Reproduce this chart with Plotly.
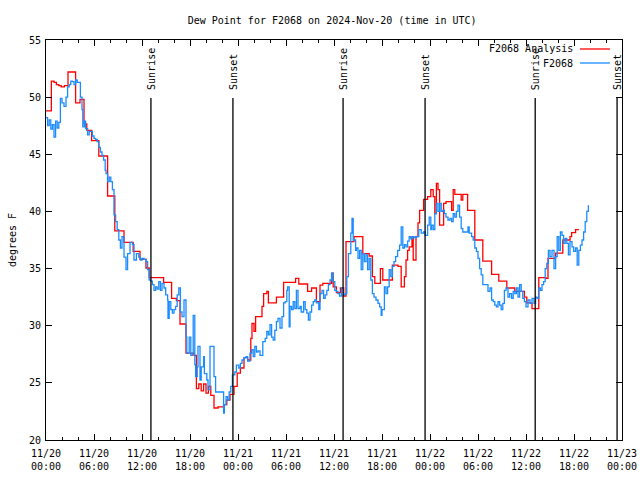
import pandas as pd
import plotly.graph_objects as go

TITLE = "Dew Point for F2068 on 2024-Nov-20 (time in UTC)"
START = pd.Timestamp("2024-11-20 00:00")
END = pd.Timestamp("2024-11-23 00:00")

# F2068 Analysis (hours since 11/20 00:00 UTC, dew point F)
analysis_hours = [0.0, 0.67, 1.0, 1.3, 1.6, 1.9, 2.3, 2.75, 3.7, 4.25, 4.75, 5.1, 5.7, 6.6, 7.7, 8.6,
                  9.75, 10.9, 11.75, 12.5, 12.9, 14.7, 15.7, 16.3, 16.75, 17.5, 18.5, 18.8, 19.1, 19.4,
                  19.7, 20.0, 20.3, 20.6, 21.0, 21.5, 22.25, 22.6, 23.0, 23.5, 23.9, 24.3, 24.75, 25.2,
                  25.6, 25.75, 26.0, 26.2, 27.0, 27.2, 27.6, 27.8, 28.8, 29.7, 31.2, 31.6, 32.7, 33.2,
                  33.8, 34.25, 34.6, 35.7, 35.9, 36.3, 36.8, 37.2, 37.5, 38.5, 39.6, 40.4, 40.8, 41.1,
                  41.8, 42.1, 43.3, 44.0, 44.4, 44.8, 45.0, 45.2, 45.4, 45.75, 45.9, 46.25, 46.5, 46.7,
                  47.2, 47.7, 48.1, 48.4, 48.6, 48.8, 49.0, 49.2, 49.7, 50.0, 50.7, 50.9, 51.1, 51.9,
                  52.1, 52.7, 53.6, 54.6, 55.7, 56.6, 57.6, 58.6, 59.8, 60.1, 60.75, 61.6, 62.5, 62.75,
                  63.7, 64.6, 65.5, 65.7, 66.2, 66.6]
analysis_values = [48.8, 51.4, 51.3, 51.1, 51.0, 50.9, 51.0, 52.2, 49.5, 49.8, 47.65, 47.1, 46.2, 44.85,
                   41.35, 38.3, 37.3, 36.5, 35.8, 35.05, 34.2, 33.8, 32.4, 32.2, 30.15, 27.6, 27.4, 24.5,
                   24.9, 24.3, 24.9, 24.1, 24.7, 23.9, 22.8, 22.9, 23.1, 23.5, 24.0, 24.7, 25.85, 26.3,
                   27.2, 27.0, 28.9, 30.2, 29.5, 30.8, 31.7, 32.8, 33.0, 32.0, 32.5, 33.8, 34.15, 33.65,
                   33.0, 33.3, 32.1, 33.55, 33.7, 34.6, 33.4, 32.9, 33.3, 32.6, 37.35, 37.8, 36.3, 36.1,
                   34.3, 33.7, 35.0, 34.0, 35.3, 35.2, 33.4, 34.3, 35.75, 36.6, 36.9, 37.8, 35.75, 37.8,
                   39.0, 40.1, 41.05, 41.3, 41.9, 41.3, 39.8, 42.45, 41.9, 38.8, 40.7, 40.85, 40.1, 41.9,
                   41.5, 41.0, 41.5, 40.1, 37.5, 35.65, 34.5, 33.9, 33.3, 33.0, 32.5, 32.0, 31.5, 34.2,
                   34.15, 35.9, 36.35, 37.5, 37.8, 38.15, 38.4, 38.4]

# F2068 observations
obs_hours = [0.0, 0.2, 0.4, 0.6, 0.8, 1.0, 1.2, 1.4, 1.6, 1.8, 2.0, 2.25, 2.5, 2.7, 2.9, 3.1, 3.3, 3.5,
             3.7, 3.9, 4.1, 4.3, 4.5, 4.6, 4.8, 4.95, 5.2, 5.4, 5.6, 5.8, 6.0, 6.2, 6.4, 6.6, 6.8, 7.0,
             7.2, 7.4, 7.5, 7.7, 7.9, 8.1, 8.3, 8.5, 8.7, 8.9, 9.1, 9.3, 9.5, 9.75, 10.0, 10.2, 10.5,
             10.8, 11.0, 11.3, 11.6, 11.8, 12.0, 12.25, 12.5, 12.7, 12.9, 13.1, 13.3, 13.5, 13.7, 13.9,
             14.1, 14.3, 14.5, 14.75, 14.96, 15.2, 15.25, 15.4, 15.6, 15.8, 16.0, 16.2, 16.4, 16.6,
             16.8, 17.0, 17.25, 17.5, 17.6, 17.9, 18.1, 18.3, 18.4, 18.6, 18.7, 18.9, 19.0, 19.25,
             19.4, 19.7, 19.8, 20.1, 20.25, 20.5, 20.8, 21.0, 21.2, 21.6, 22.0, 22.2, 22.3, 22.5,
             22.7, 22.9, 23.1, 23.3, 23.6, 23.8, 24.1, 24.3, 24.5, 24.75, 25.0, 25.2, 25.5, 25.7,
             25.9, 26.1, 26.3, 26.5, 26.75, 27.1, 27.4, 27.6, 27.8, 28.0, 28.2, 28.4, 28.6, 28.8,
             29.0, 29.25, 29.5, 29.7, 29.9, 30.1, 30.2, 30.4, 30.5, 30.7, 30.9, 31.1, 31.3, 31.5,
             31.75, 31.9, 32.2, 32.4, 32.6, 32.8, 33.0, 33.2, 33.4, 33.6, 33.8, 34.1, 34.25, 34.5,
             34.7, 34.9, 35.1, 35.3, 35.5, 35.7, 35.9, 36.1, 36.3, 36.5, 36.7, 36.95, 37.2, 37.4,
             37.6, 37.8, 38.1, 38.25, 38.4, 38.7, 38.8, 39.0, 39.2, 39.4, 39.6, 39.8, 40.0, 40.2,
             40.4, 40.6, 40.8, 41.0, 41.25, 41.5, 41.7, 41.9, 42.0, 42.3, 42.5, 42.7, 42.9, 43.1,
             43.3, 43.5, 43.7, 43.95, 44.2, 44.4, 44.6, 44.8, 45.0, 45.2, 45.4, 45.6, 45.8, 46.0,
             46.25, 46.6, 46.9, 47.2, 47.4, 47.7, 47.9, 48.1, 48.2, 48.4, 48.6, 48.8, 49.0, 49.2,
             49.4, 49.6, 49.8, 50.0, 50.25, 50.5, 50.7, 50.9, 51.1, 51.3, 51.5, 51.7, 51.9, 52.1,
             52.5, 52.75, 52.9, 53.2, 53.4, 53.6, 53.8, 54.0, 54.2, 54.4, 54.6, 55.0, 55.25, 55.5,
             55.7, 55.9, 56.1, 56.3, 56.5, 56.7, 56.9, 57.1, 57.3, 57.5, 57.75, 57.96, 58.2, 58.4,
             58.6, 58.8, 59.0, 59.2, 59.4, 59.6, 59.8, 60.0, 60.25, 60.5, 60.75, 61.0, 61.2, 61.4,
             61.6, 61.8, 62.0, 62.2, 62.4, 62.6, 62.8, 63.0, 63.25, 63.5, 63.7, 63.9, 64.1, 64.3,
             64.5, 64.7, 64.9, 65.1, 65.3, 65.5, 65.75, 65.96, 66.2, 66.4, 66.6, 66.8, 67.0, 67.2,
             67.4, 67.6, 67.8]
obs_values = [48.2, 47.5, 48.0, 47.2, 47.6, 46.5, 47.9, 47.3, 47.8, 49.9, 49.5, 49.2, 50.0, 50.9, 51.1,
              51.4, 51.35, 51.1, 51.5, 51.3, 51.3, 50.0, 48.9, 47.4, 47.9, 47.25, 46.7, 47.0, 47.0, 46.6,
              46.4, 46.3, 46.1, 45.6, 45.2, 44.9, 44.5, 43.6, 43.3, 42.6, 43.0, 42.6, 41.9, 39.7, 39.1,
              38.4, 37.5, 36.8, 37.8, 36.0, 34.9, 36.3, 37.3, 37.1, 35.75, 36.3, 36.0, 35.75, 35.9, 35.8,
              35.6, 34.9, 34.0, 33.9, 33.6, 33.1, 33.4, 33.2, 33.85, 33.1, 33.7, 33.3, 32.7, 32.25, 30.65,
              32.1, 31.4, 31.1, 31.4, 31.7, 32.7, 33.3, 31.2, 30.8, 32.25, 29.0, 27.6, 29.0, 27.4, 27.6,
              30.9, 26.6, 25.55, 26.4, 28.2, 25.25, 26.4, 27.3, 25.8, 25.25, 24.4, 28.2, 28.2, 25.55,
              24.2, 24.2, 24.2, 22.35, 23.1, 23.8, 23.5, 24.2, 24.7, 25.7, 25.95, 26.55, 26.3, 26.7,
              27.0, 27.2, 27.3, 26.9, 27.6, 27.9, 27.3, 28.2, 27.7, 27.8, 27.4, 28.6, 28.9, 29.5, 29.2,
              30.1, 29.0, 28.75, 29.6, 30.35, 30.65, 29.8, 30.8, 32.0, 32.1, 33.1, 33.4, 29.9, 31.7,
              31.4, 32.1, 31.5, 33.1, 31.5, 31.7, 31.2, 32.1, 31.4, 31.1, 30.5, 31.2, 31.8, 32.1, 32.25,
              32.0, 31.4, 32.8, 33.1, 32.4, 32.7, 33.1, 33.6, 34.0, 34.6, 33.85, 33.1, 33.0, 32.8, 32.6,
              33.3, 32.7, 32.8, 34.3, 36.3, 38.1, 39.4, 37.5, 36.6, 36.8, 35.9, 36.6, 34.9, 36.3, 35.6,
              36.2, 34.9, 35.9, 34.0, 32.8, 32.5, 32.25, 31.95, 31.65, 30.9, 31.4, 33.4, 32.8, 33.4,
              34.9, 34.3, 35.2, 35.6, 36.05, 36.6, 37.05, 38.65, 36.8, 37.1, 36.9, 37.4, 37.8, 37.6,
              37.8, 37.7, 37.8, 38.4, 38.1, 38.2, 37.9, 38.8, 39.5, 38.4, 38.8, 38.4, 39.8, 40.7, 40.0,
              40.7, 40.0, 40.1, 39.8, 39.5, 39.25, 39.4, 39.1, 39.8, 39.5, 40.0, 40.55, 39.5, 38.5,
              38.2, 38.2, 38.65, 38.1, 37.8, 37.5, 36.8, 36.5, 35.9, 35.0, 34.45, 33.6, 33.6, 33.0,
              33.3, 32.25, 32.1, 31.8, 31.65, 32.1, 31.8, 31.4, 31.95, 33.1, 33.3, 32.5, 32.8, 32.4,
              33.0, 32.8, 33.3, 32.5, 33.6, 33.0, 32.4, 32.1, 31.65, 32.25, 31.95, 32.4, 31.95, 32.5,
              32.4, 33.3, 33.1, 33.6, 33.85, 35.0, 35.45, 36.6, 36.05, 36.6, 35.0, 36.05, 37.8, 36.6,
              38.2, 37.9, 37.2, 37.65, 37.2, 36.2, 37.35, 36.9, 36.5, 36.8, 35.3, 36.6, 37.05, 37.5,
              38.2, 39.1, 40.0, 40.55]

# Sun events
sun_labels = ["Sunrise", "Sunset", "Sunrise", "Sunset", "Sunrise", "Sunset"]
sun_times = ["2024-11-20 13:07", "2024-11-20 23:22", "2024-11-21 13:08",
             "2024-11-21 23:23", "2024-11-22 13:09", "2024-11-22 23:23"]

Y_TICKS = [20, 25, 30, 35, 40, 45, 50, 55]

FONT = "DejaVu Sans Mono"
FS = 10
RED = "#ff0000"
BLUE = "#1a8cff"


def to_time(hours):
    return [START + pd.Timedelta(hours=h) for h in hours]


fig = go.Figure()
fig.add_trace(go.Scatter(x=to_time(analysis_hours), y=analysis_values, name="F2068 Analysis",
                         mode="lines", line=dict(color=RED, width=1.3, shape="hv"), showlegend=False))
fig.add_trace(go.Scatter(x=to_time(obs_hours), y=obs_values, name="F2068",
                         mode="lines", line=dict(color=BLUE, width=1.3, shape="hv"), showlegend=False))

for lab, t in zip(sun_labels, sun_times):
    fig.add_shape(type="line", xref="x", yref="paper", x0=t, x1=t, y0=0, y1=0.855,
                  line=dict(color="black", width=1.3))
    fig.add_annotation(x=t, xref="x", y=0.87, yref="paper", text=lab, textangle=-90,
                       showarrow=False, xanchor="center", yanchor="bottom",
                       font=dict(family=FONT, size=FS, color="black"))

# gnuplot-style key: text then line sample
legend_items = [("F2068 Analysis", RED, 0.9775), ("F2068", BLUE, 0.9425)]
for name, col, yy in legend_items:
    fig.add_annotation(x=0.918, xref="paper", y=yy, yref="paper", text=name, showarrow=False,
                       xanchor="right", yanchor="middle", font=dict(family=FONT, size=FS, color="black"))
    fig.add_shape(type="line", xref="paper", yref="paper", x0=0.927, x1=0.979, y0=yy, y1=yy,
                  line=dict(color=col, width=1.3))

fig.update_layout(
    width=640, height=480,
    margin=dict(l=46, r=18, t=40, b=40, autoexpand=False),
    paper_bgcolor="white", plot_bgcolor="white",
    font=dict(family=FONT, size=FS, color="black"),
    title=dict(text=TITLE, x=0.519, xanchor="center", y=0.958, yanchor="middle",
               font=dict(family=FONT, size=FS, color="black")),
)
fig.update_xaxes(
    range=[START, END], type="date", automargin=False,
    tick0=START, dtick=6 * 3600 * 1000, tickformat="%m/%d<br>%H:%M",
    ticks="inside", ticklen=6, tickcolor="black", tickwidth=1, ticklabelstandoff=4,
    minor=dict(dtick=2 * 3600 * 1000, ticks="inside", ticklen=3, tickcolor="black", tickwidth=1),
    showline=True, linecolor="black", linewidth=1, mirror="ticks",
    showgrid=False, zeroline=False, tickfont=dict(family=FONT, size=FS),
)
fig.update_yaxes(
    range=[20, 55], tickvals=Y_TICKS, automargin=False,
    ticks="inside", ticklen=6, tickcolor="black", tickwidth=1, ticklabelstandoff=2,
    showline=True, linecolor="black", linewidth=1, mirror="ticks",
    showgrid=False, zeroline=False, tickfont=dict(family=FONT, size=FS),
    title=dict(text="degrees F", standoff=10, font=dict(family=FONT, size=FS)),
)

fig.write_html("out.html", config={"displayModeBar": False},
               post_script="document.body.style.margin='0';document.body.style.overflow='hidden';")
